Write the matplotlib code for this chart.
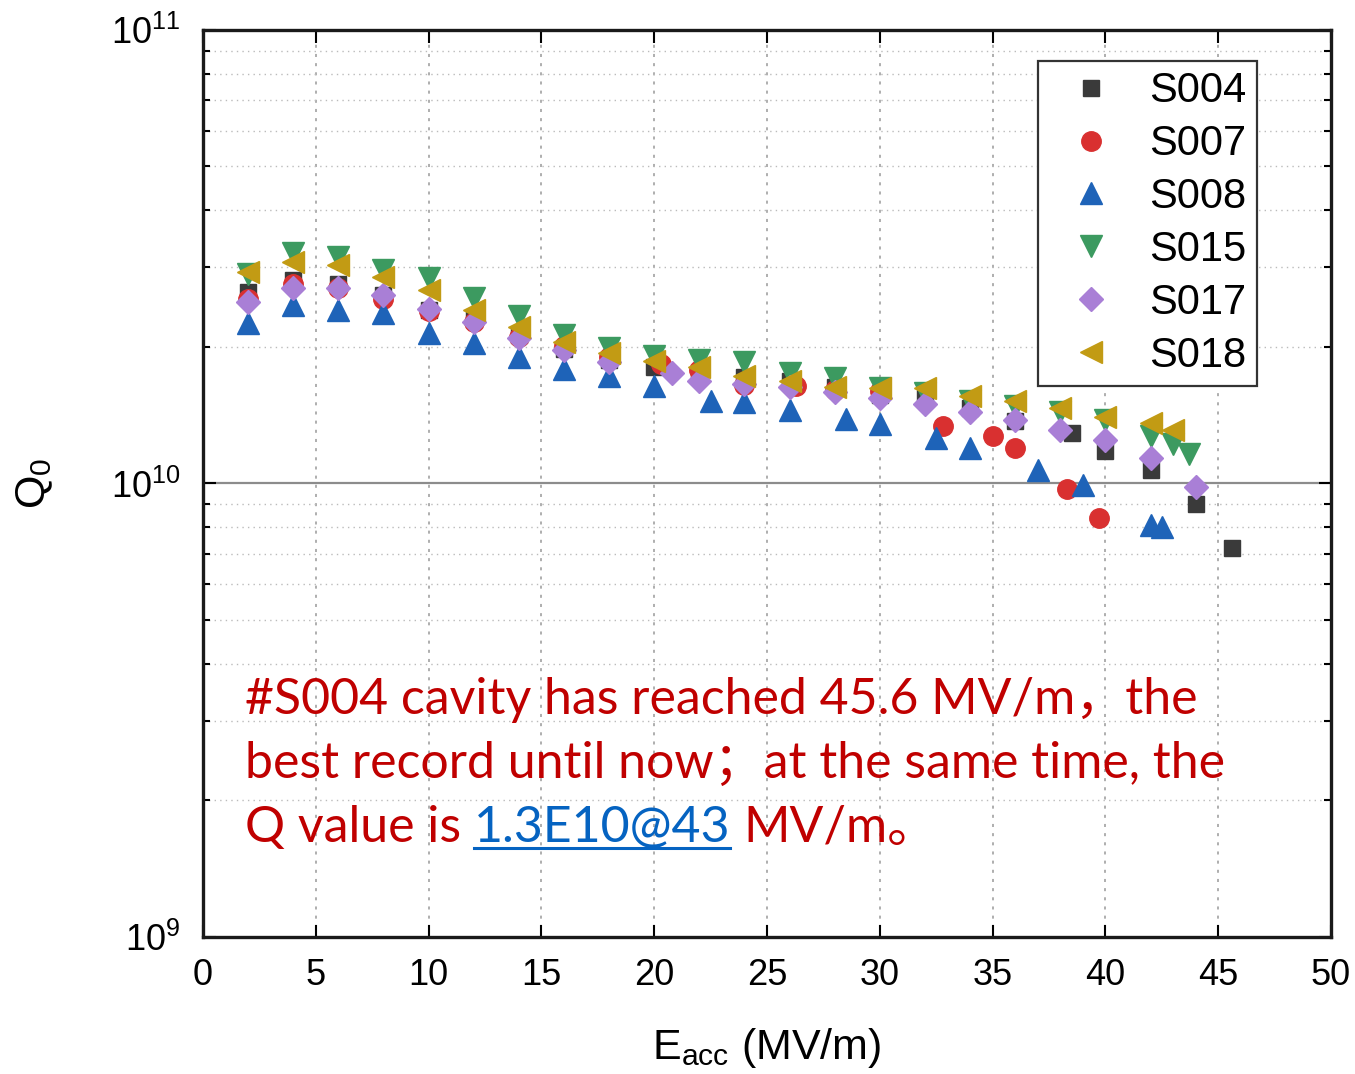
import numpy as np
import matplotlib
matplotlib.use('Agg')
import matplotlib.pyplot as plt
from matplotlib.ticker import LogLocator, NullFormatter
from matplotlib.lines import Line2D

plt.rcParams['font.family'] = ['Liberation Sans', 'DejaVu Sans']
plt.rcParams['mathtext.fontset'] = 'custom'
plt.rcParams['mathtext.rm'] = 'Liberation Sans'
plt.rcParams['mathtext.it'] = 'Liberation Sans:italic'
plt.rcParams['mathtext.default'] = 'regular'

# ---- data (Eacc in MV/m, Q0 in units of 1e10) ----
s004_x = [2, 4, 6, 8, 10, 12, 14, 16, 18, 20, 22, 24, 26, 28, 30, 32, 34, 36, 38.5, 40, 42, 44, 45.6]
s004_q = [2.64, 2.81, 2.76, 2.60, 2.41, 2.30, 2.12, 1.98, 1.87, 1.81, 1.75, 1.72, 1.68, 1.63, 1.57,
          1.54, 1.47, 1.37, 1.29, 1.18, 1.07, 0.90, 0.72]

s007_x = [2, 4, 6, 8, 10, 12, 14, 16, 18, 20.3, 22, 24, 26.3, 28, 30, 32.8, 35, 36, 38.3, 39.7]
s007_q = [2.55, 2.75, 2.70, 2.55, 2.40, 2.27, 2.10, 2.01, 1.90, 1.83, 1.78, 1.65, 1.64, 1.61, 1.60,
          1.34, 1.27, 1.20, 0.97, 0.84]

s008_x = [2, 4, 6, 8, 10, 12, 14, 16, 18, 20, 22.5, 24, 26, 28.5, 30, 32.5, 34, 37, 39, 42, 42.5]
s008_q = [2.26, 2.48, 2.41, 2.38, 2.15, 2.04, 1.90, 1.79, 1.73, 1.64, 1.52, 1.51, 1.45, 1.39, 1.35,
          1.26, 1.20, 1.07, 0.99, 0.81, 0.80]

s015_x = [2, 4, 6, 8, 10, 12, 14, 16, 18, 20, 22, 24, 26, 28, 30, 32, 34, 36, 38, 40, 42, 43, 43.7]
s015_q = [2.90, 3.22, 3.16, 2.96, 2.84, 2.56, 2.34, 2.13, 1.99, 1.91, 1.87, 1.85, 1.75, 1.71, 1.62,
          1.58, 1.52, 1.48, 1.44, 1.38, 1.27, 1.22, 1.16]

s017_x = [2, 4, 6, 8, 10, 12, 14, 16, 18, 20.8, 22, 24, 26, 28, 30, 32, 34, 36, 38, 40, 42, 44]
s017_q = [2.51, 2.70, 2.70, 2.60, 2.43, 2.27, 2.09, 1.97, 1.85, 1.75, 1.68, 1.66, 1.63, 1.59, 1.54,
          1.50, 1.44, 1.38, 1.31, 1.25, 1.14, 0.98]

s018_x = [2, 4, 6, 8, 10, 12, 14, 16, 18, 20, 22, 24, 26, 28, 30, 32, 34, 36, 38, 40, 42, 43]
s018_q = [2.93, 3.08, 3.03, 2.85, 2.67, 2.41, 2.21, 2.05, 1.94, 1.86, 1.81, 1.73, 1.68, 1.63, 1.62,
          1.62, 1.56, 1.52, 1.47, 1.40, 1.36, 1.31]

series = [
    ('S004', s004_x, s004_q, 's', '#3a3a3a', 12),
    ('S007', s007_x, s007_q, 'o', '#d93030', 14),
    ('S008', s008_x, s008_q, '^', '#1e63b8', 16),
    ('S015', s015_x, s015_q, 'v', '#3c9a60', 16),
    ('S017', s017_x, s017_q, 'D', '#a97fd6', 12),
    ('S018', s018_x, s018_q, '<', '#c29b14', 16),
]

fig = plt.figure(figsize=(13.55, 10.74), dpi=100)
ax = fig.add_axes([0.1498, 0.1276, 0.8325, 0.8445])

for name, xs, qs, mk, col, ms in series:
    ax.plot(xs, np.array(qs) * 1e10, linestyle='none', marker=mk, ms=ms,
            color=col, mec=col, label=name, zorder=3)

ax.set_yscale('log')
ax.set_xlim(0, 50)
ax.set_ylim(1e9, 1e11)
ax.set_xticks(range(0, 51, 5))
ax.set_yticks([1e9, 1e10, 1e11])
ax.set_yticklabels(['10$^{9}$', '10$^{10}$', '10$^{11}$'])
ax.yaxis.set_minor_locator(LogLocator(base=10, subs=np.arange(2, 10)))
ax.yaxis.set_minor_formatter(NullFormatter())

ax.tick_params(which='both', direction='in', top=True, right=True, width=1.5)
ax.tick_params(which='major', length=9, labelsize=26, pad=15)
ax.tick_params(axis='y', which='major', pad=16)
ax.tick_params(which='minor', length=5)
for sp in ax.spines.values():
    sp.set_linewidth(2.4)
    sp.set_color('#1a1a1a')

ax.grid(True, axis='x', which='major', ls=(0, (2, 4)), color='#999999', lw=1.1)
ax.grid(True, axis='y', which='minor', ls=(0, (1, 3)), color='#bbbbbb', lw=1.0)
ax.axhline(1e10, color='#8c8c8c', lw=1.6, zorder=1)

ax.set_xlabel('E$_{acc}$ (MV/m)', fontsize=31, labelpad=24)
ax.set_ylabel('Q$_0$', fontsize=31, labelpad=40)

leg = ax.legend(loc='upper right', bbox_to_anchor=(0.934, 0.966), fontsize=30,
                frameon=True, fancybox=False, framealpha=1, edgecolor='#333333',
                borderpad=0.25, labelspacing=0.31, handlelength=2.0, handletextpad=0.4,
                borderaxespad=0)
leg.get_frame().set_linewidth(1.6)

# ---- annotation text ----
afam = ['Lato', 'Noto Sans CJK SC']
asize = 36
red = '#c00000'
blue = '#0563c1'
W, H = fig.get_size_inches() * fig.dpi

fig.text(245 / W, 1 - 714 / H, '#S004 cavity has reached 45.6 MV/m\uff0cthe',
         color=red, fontsize=asize, family=afam, va='baseline')
fig.text(245 / W, 1 - 778 / H, 'best record until now\uff1bat the same time, the',
         color=red, fontsize=asize, family=afam, va='baseline')

fig.canvas.draw()
r = fig.canvas.get_renderer()


def width_px(s):
    t = fig.text(0, 0.5, s, fontsize=asize, family=afam)
    w = t.get_window_extent(r).width
    t.remove()
    return w


x0 = 245
base3 = 842
link_x = x0 + width_px('Q value is 1') - width_px('1')
link_w = width_px('1.3E10@43')
rest_x = x0 + width_px('Q value is 1.3E10@43 M') - width_px('M')
fig.text(x0 / W, 1 - base3 / H, 'Q value is', color=red, fontsize=asize, family=afam, va='baseline')
fig.text(link_x / W, 1 - base3 / H, '1.3E10@43', color=blue, fontsize=asize, family=afam, va='baseline')
fig.text(rest_x / W, 1 - base3 / H, 'MV/m\u3002', color=red, fontsize=asize, family=afam, va='baseline')
fig.add_artist(Line2D([link_x / W, (link_x + link_w) / W], [1 - (base3 + 6) / H] * 2,
                      color=blue, lw=2.2, transform=fig.transFigure))

fig.savefig('out.png', dpi=100)
